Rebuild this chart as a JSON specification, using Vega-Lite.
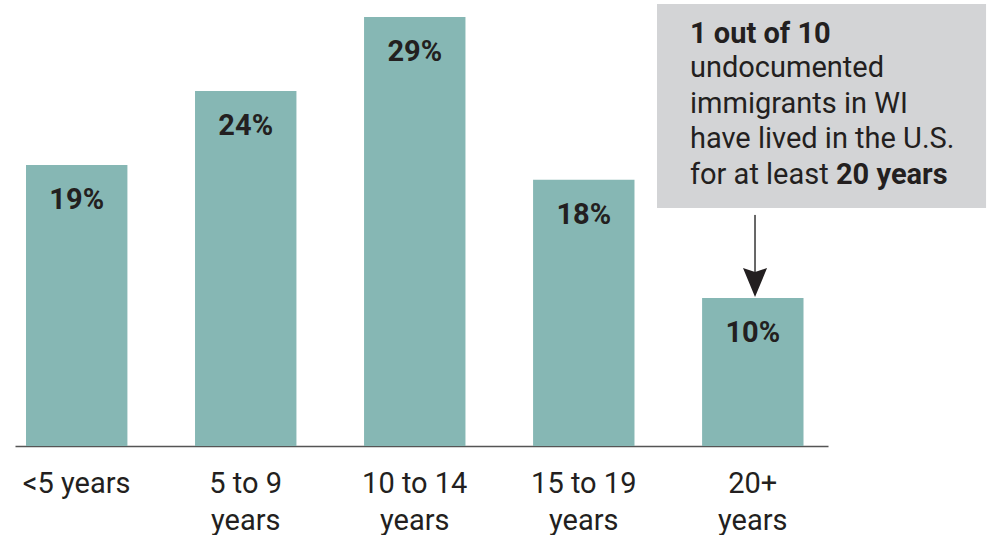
{
  "$schema": "https://vega.github.io/schema/vega-lite/v6.json",
  "width": 975,
  "height": 429,
  "autosize": {"type": "none"},
  "padding": {"left": 15, "top": 17, "right": 0, "bottom": 89},
  "background": "white",
  "config": {
    "view": {"stroke": null},
    "font": "Roboto",
    "text": {"font": "Roboto"}
  },
  "resolve": {"scale": {"x": "independent"}, "axis": {"x": "independent"}},
  "layer": [
    {
      "data": {"values": [
        {"period": "<5 years", "pct": 19},
        {"period": "5 to 9|years", "pct": 24},
        {"period": "10 to 14|years", "pct": 29},
        {"period": "15 to 19|years", "pct": 18},
        {"period": "20+|years", "pct": 10}
      ]},
      "transform": [{"calculate": "datum.pct + '%'", "as": "label"}],
      "encoding": {
        "x": {
          "field": "period", "type": "nominal", "sort": null,
          "scale": {"range": [0, 813], "paddingInner": 0.4, "paddingOuter": 0.105, "align": 0.31},
          "axis": {
            "title": null, "ticks": false, "tickSize": 0, "grid": false,
            "domainColor": "#555555", "domainWidth": 1.5,
            "labelExpr": "split(datum.value, '|')",
            "labelFont": "Roboto", "labelFontSize": 29, "labelColor": "#231f20",
            "labelLineHeight": 37, "labelPadding": 46, "labelAngle": 0,
            "labelBaseline": "alphabetic"
          }
        },
        "y": {
          "field": "pct", "type": "quantitative",
          "scale": {"domain": [0, 29], "nice": false, "zero": true},
          "axis": null
        }
      },
      "layer": [
        {"mark": {"type": "bar", "color": "#86b7b4"}},
        {
          "mark": {"type": "text", "font": "Roboto", "fontWeight": "bold", "fontSize": 29, "color": "#231f20", "baseline": "alphabetic", "dy": 44},
          "encoding": {"text": {"field": "label", "type": "nominal"}}
        }
      ]
    },
    {
      "layer": [
        {
          "data": {"values": [{"x1": 3.432, "x2": 5.379, "y1": 16.09, "y2": 29.88}]},
          "mark": {"type": "rect", "color": "#d3d4d6"},
          "encoding": {
            "x": {"field": "x1", "type": "quantitative", "scale": {"domain": [-0.36686, 5.40237], "nice": false, "zero": false}, "axis": null},
            "x2": {"field": "x2"},
            "y": {"field": "y1", "type": "quantitative"},
            "y2": {"field": "y2"}
          }
        },
        {
          "data": {"values": [{"x": 4.012, "y1": 15.62, "y2": 11.6}]},
          "mark": {"type": "rule", "color": "#666666", "strokeWidth": 2},
          "encoding": {
            "x": {"field": "x", "type": "quantitative"},
            "y": {"field": "y1", "type": "quantitative"},
            "y2": {"field": "y2"}
          }
        },
        {
          "data": {"values": [{"x": 4.012, "y": 11.05}]},
          "mark": {"type": "point", "shape": "M0,1L-0.83,-1L0,-0.72L0.83,-1Z", "size": 841, "filled": true, "color": "#231f20", "opacity": 1},
          "encoding": {
            "x": {"field": "x", "type": "quantitative"},
            "y": {"field": "y", "type": "quantitative"}
          }
        },
        {
          "data": {"values": [
            {"t": "undocumented", "x": 3.627, "y": 24.92},
            {"t": "immigrants in WI", "x": 3.627, "y": 22.53},
            {"t": "have lived in the U.S.", "x": 3.627, "y": 20.12},
            {"t": "for at least", "x": 3.627, "y": 17.69}
          ]},
          "mark": {"type": "text", "font": "Roboto", "fontSize": 29, "color": "#231f20", "align": "left", "baseline": "alphabetic"},
          "encoding": {
            "x": {"field": "x", "type": "quantitative"},
            "y": {"field": "y", "type": "quantitative"},
            "text": {"field": "t"}
          }
        },
        {
          "data": {"values": [
            {"t": "1 out of 10", "x": 3.627, "y": 27.22},
            {"t": "20 years", "x": 4.491, "y": 17.69}
          ]},
          "mark": {"type": "text", "font": "Roboto", "fontSize": 29, "fontWeight": "bold", "color": "#231f20", "align": "left", "baseline": "alphabetic"},
          "encoding": {
            "x": {"field": "x", "type": "quantitative"},
            "y": {"field": "y", "type": "quantitative"},
            "text": {"field": "t"}
          }
        }
      ]
    }
  ]
}
